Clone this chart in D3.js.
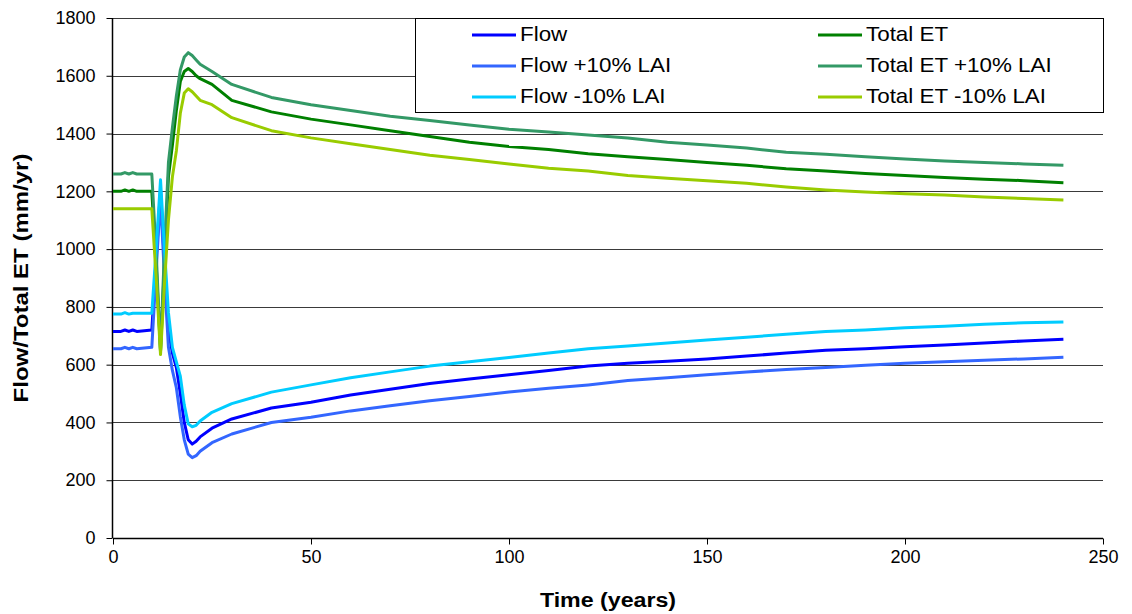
<!DOCTYPE html>
<html>
<head>
<meta charset="utf-8">
<script src="https://cdn.jsdelivr.net/npm/d3@7"></script>
<style>
body { margin: 0; background: #fff; }
text { font-family: "Liberation Sans", Arial, sans-serif; }
</style>
</head>
<body>
<script>
//Width and height
var w = 1132
var h = 614

//Data: years and series values (mm/yr)
var years = [0, 2, 3, 4, 5, 6, 9.8, 11, 12, 13, 14, 15, 16, 17, 18, 19, 20, 21, 22, 25, 30, 40, 50, 60, 70, 80, 90, 100, 110, 120, 130, 140, 150, 160, 170, 180, 190, 200, 210, 220, 230, 240];

var flow        = [715, 715, 720, 715, 720, 715, 720, 990, 1205, 950, 720, 640, 590, 500, 400, 340, 325, 335, 350, 380, 412, 450, 470, 495, 515, 535, 550, 565, 580, 595, 605, 612, 620, 630, 640, 650, 655, 662, 668, 675, 682, 688];
var flowPlus    = [655, 655, 660, 655, 660, 655, 660, 950, 1180, 900, 660, 580, 520, 420, 340, 290, 278, 285, 300, 330, 360, 400, 418, 440, 458, 475, 490, 505, 518, 530, 545, 555, 565, 575, 583, 590, 598, 605, 610, 615, 620, 626];
var flowMinus   = [775, 775, 780, 775, 778, 778, 778, 1020, 1240, 1000, 780, 660, 610, 560, 460, 395, 385, 390, 405, 435, 465, 505, 530, 555, 575, 595, 610, 625, 640, 655, 665, 675, 685, 695, 705, 715, 720, 728, 733, 740, 745, 748];
var et          = [1200, 1200, 1205, 1200, 1205, 1200, 1200, 920, 645, 950, 1250, 1360, 1480, 1580, 1615, 1625, 1615, 1600, 1590, 1570, 1515, 1475, 1450, 1430, 1410, 1390, 1370, 1355, 1345, 1330, 1320, 1310, 1300, 1290, 1278, 1270, 1262, 1255, 1248, 1242, 1237, 1230];
var etPlus      = [1260, 1260, 1265, 1260, 1265, 1260, 1260, 960, 650, 1000, 1300, 1420, 1530, 1620, 1665, 1680, 1670, 1655, 1640, 1615, 1570, 1525, 1500, 1480, 1460, 1445, 1430, 1415, 1405, 1395, 1385, 1370, 1360, 1350, 1335, 1328, 1320, 1312, 1305, 1300, 1295, 1290];
var etMinus     = [1140, 1140, 1140, 1140, 1140, 1140, 1140, 880, 635, 880, 1100, 1250, 1340, 1470, 1540, 1555, 1545, 1530, 1515, 1500, 1455, 1410, 1385, 1365, 1345, 1325, 1310, 1295, 1280, 1270, 1255, 1245, 1237, 1228, 1215, 1205, 1198, 1192, 1187, 1180, 1175, 1170];

var seriesNames  = ["Flow", "Total ET", "Flow +10% LAI", "Total ET +10% LAI", "Flow -10% LAI", "Total ET -10% LAI"];
var seriesValues = [flow, et, flowPlus, etPlus, flowMinus, etMinus];
var seriesColors = ["#0000ff", "#008000", "#3366ff", "#339966", "#00ccff", "#99cc00"];

var yTicks = [0, 200, 400, 600, 800, 1000, 1200, 1400, 1600, 1800];
var xTicks = [0, 50, 100, 150, 200, 250];

//Scales
var xScale = d3.scaleLinear()
	.domain([0, 250])
	.range([113, 1103]);

var yScale = d3.scaleLinear()
	.domain([0, 1800])
	.range([538, 18]);

//Create SVG
var svg = d3.select("body")
	.append("svg")
	.attr("width", w)
	.attr("height", h);

//Gridlines
svg.append("g").selectAll("line")
	.data(yTicks.slice(1))
	.enter()
	.append("line")
	.attr("x1", 113)
	.attr("x2", 1103)
	.attr("y1", function(d){ return Math.round(yScale(d)) + 0.5; })
	.attr("y2", function(d){ return Math.round(yScale(d)) + 0.5; })
	.style("stroke", "#3a3a3a")
	.style("stroke-width", 1.2);

//Axes
var yAxis = d3.axisLeft(yScale)
	.tickValues(yTicks)
	.tickFormat(d3.format("d"))
	.tickSize(6)
	.tickPadding(11);

var xAxis = d3.axisBottom(xScale)
	.tickValues(xTicks)
	.tickFormat(d3.format("d"))
	.tickSize(6)
	.tickPadding(6);

var gy = svg.append("g")
	.attr("transform", "translate(112.5,0)")
	.call(yAxis);

var gx = svg.append("g")
	.attr("transform", "translate(0,538.5)")
	.call(xAxis);

svg.selectAll(".domain").style("stroke", "#000").style("stroke-width", 1.5);
svg.selectAll(".tick line").style("stroke", "#000");
svg.selectAll(".tick text")
	.style("font-size", "18px")
	.style("fill", "#000");
gx.select(".domain").attr("d", "M113,0H1103");
gy.select(".domain").attr("d", "M0,18V538");

//Axis titles
svg.append("text")
	.attr("transform", "translate(608,607) scale(1.16,1)")
	.attr("text-anchor", "middle")
	.style("font-size", "20px")
	.style("font-weight", "bold")
	.text("Time (years)");

svg.append("text")
	.attr("transform", "translate(28,278) rotate(-90) scale(1.2,1)")
	.attr("text-anchor", "middle")
	.style("font-size", "20px")
	.style("font-weight", "bold")
	.text("Flow/Total ET (mm/yr)");

//Lines
var line = d3.line()
	.x(function(d, i){ return xScale(years[i]); })
	.y(function(d){ return yScale(d); });

svg.append("g").selectAll("path")
	.data(seriesValues)
	.enter()
	.append("path")
	.attr("d", line)
	.style("fill", "none")
	.style("stroke", function(d, i){ return seriesColors[i]; })
	.style("stroke-width", 3)
	.style("stroke-linejoin", "round");

//Legend
var legend = svg.append("g");
legend.append("rect")
	.attr("x", 415.5)
	.attr("y", 18.5)
	.attr("width", 688)
	.attr("height", 94)
	.style("fill", "#fff")
	.style("stroke", "#000")
	.style("stroke-width", 1);

var items = legend.selectAll("g.item")
	.data(seriesNames)
	.enter()
	.append("g")
	.attr("class", "item")
	.attr("transform", function(d, i){
		var col = i % 2, row = Math.floor(i / 2);
		return "translate(" + (col == 0 ? 472 : 818) + "," + (35 + row * 31) + ")";
	});

items.append("line")
	.attr("x1", 0)
	.attr("x2", 44)
	.style("stroke", function(d, i){ return seriesColors[i]; })
	.style("stroke-width", 3);

items.append("text")
	.attr("transform", "translate(48,6) scale(1.12,1)")
	.style("font-size", "20px")
	.text(function(d){ return d; });
</script>
</body>
</html>
